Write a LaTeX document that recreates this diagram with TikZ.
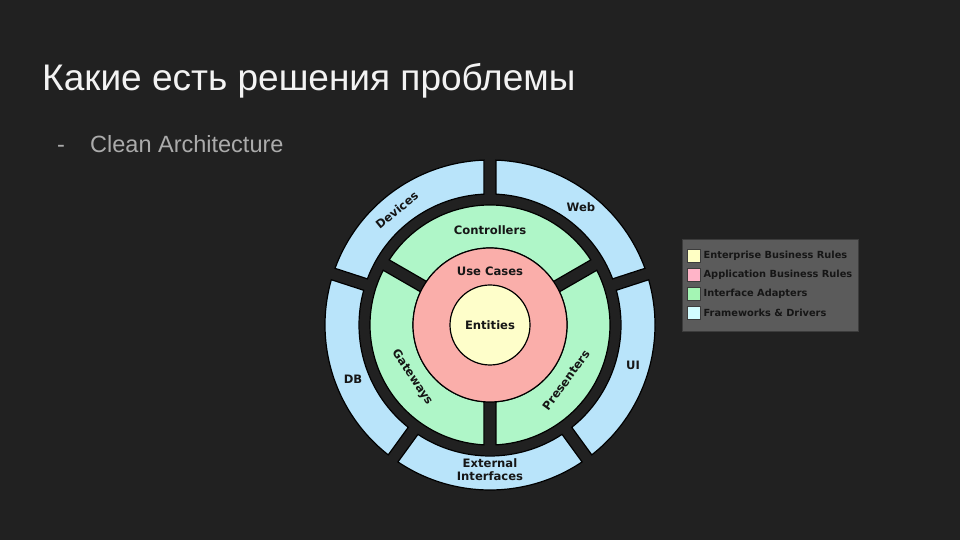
\documentclass[tikz,border=0pt]{standalone}
\usepackage{fontspec}
\setmainfont{Liberation Sans}
\newfontfamily\archfont{DejaVu Sans}
\usetikzlibrary{positioning}

\definecolor{slidebg}{HTML}{212121}
\definecolor{titlefg}{HTML}{F3F3F3}
\definecolor{bulletfg}{HTML}{ABABAB}
\definecolor{entcol}{HTML}{FEFECA}
\definecolor{usecol}{HTML}{FAAEAA}
\definecolor{adaptcol}{HTML}{AFF6C8}
\definecolor{framecol}{HTML}{B9E4FA}
\definecolor{keyent}{HTML}{FFFFC4}
\definecolor{keyuse}{HTML}{FFB4C8}
\definecolor{keyadapt}{HTML}{A4F5B4}
\definecolor{keyframe}{HTML}{D2FCFF}
\definecolor{legendbg}{HTML}{5B5B5B}
\definecolor{legendedge}{HTML}{3C3C3C}
\definecolor{inkdark}{HTML}{161616}

% one piece of a ring: fill, start angle, end angle, inner r, outer r
\newcommand{\ringpart}[5]{%
  \pgfmathsetmacro{\dout}{asin(6/#5)}%
  \pgfmathsetmacro{\din}{asin(6/#4)}%
  \filldraw[part, fill=#1] ({#2+\dout}:#5) arc[start angle=#2+\dout, end angle=#3-\dout, radius=#5]
    -- ({#3-\din}:#4) arc[start angle=#3-\din, end angle=#2+\din, radius=#4] -- cycle;}

\begin{document}
\begin{tikzpicture}[x=1pt, y=1pt,
    part/.style={draw=black, line width=1.2pt},
    lbl/.style={font=\archfont\bfseries\fontsize{11.6}{13}\selectfont, text=inkdark, align=center, inner sep=0pt},
    keybox/.style={draw=legendedge, line width=0.9pt, minimum size=13pt, inner sep=0pt},
    keytext/.style={font=\archfont\bfseries\fontsize{9.8}{11}\selectfont, text=inkdark, inner sep=0pt}]
    \fill[slidebg] (0,0) rectangle (960,540);
    \useasboundingbox (0,0) rectangle (960,540);

    % Title and bullet
    \node[anchor=base west, inner sep=0pt, text=titlefg, font=\fontsize{37}{42}\selectfont] at (42,449) (title) {Какие есть решения проблемы};
    \node[anchor=base west, inner sep=0pt, text=bulletfg, font=\fontsize{23.5}{28}\selectfont] at (57,387) (dash) {-};
    \node[anchor=base west, inner sep=0pt, text=bulletfg, font=\fontsize{23.5}{28}\selectfont] at (90,387) (bullet) {Clean Architecture};

    \begin{scope}[shift={(490,215)}]
        % Outer ring: Frameworks & Drivers
        \ringpart{framecol}{18}{90}{131}{165}
        \ringpart{framecol}{90}{162}{131}{165}
        \ringpart{framecol}{162}{234}{131}{165}
        \ringpart{framecol}{234}{306}{131}{165}
        \ringpart{framecol}{-54}{18}{131}{165}

        % Middle ring: Interface Adapters
        \ringpart{adaptcol}{30}{150}{77}{120}
        \ringpart{adaptcol}{150}{270}{77}{120}
        \ringpart{adaptcol}{-90}{30}{77}{120}

        % Inner circles
        \filldraw[part, fill=usecol] (0,0) circle[radius=77];
        \node[circle, part, fill=entcol, minimum size=80pt, lbl] at (0,0) (entities) {Entities};

        \node[lbl] at (0,54) (usecases) {Use Cases};
        \node[lbl] at (0,95) (controllers) {Controllers};
        \node[lbl, rotate=-56] at (214:94) (gateways) {Gateways};
        \node[lbl, rotate=54] at (-36:94) (presenters) {Presenters};

        \node[lbl] at (91,118) (web) {Web};
        \node[lbl, rotate=39] at (129:148) (devices) {Devices};
        \node[lbl] at (-137,-54) (db) {DB};
        \node[lbl] at (143,-40) (ui) {UI};
        \node[lbl] at (0,-145) (external) {External\\Interfaces};
    \end{scope}

    % Legend
    \node[draw=legendedge, line width=1pt, fill=legendbg, minimum width=176pt, minimum height=92pt, anchor=north west] at (682,301) (legend) {};
    \foreach \col/\txt [count=\i] in {keyent/Enterprise Business Rules, keyuse/Application Business Rules, keyadapt/Interface Adapters, keyframe/Frameworks \& Drivers} {
        \node[keybox, fill=\col] at (694,303.5-19*\i) (key\i) {};
        \node[keytext, right=2.5pt of key\i] (keytxt\i) {\txt};
    }
\end{tikzpicture}
\end{document}
